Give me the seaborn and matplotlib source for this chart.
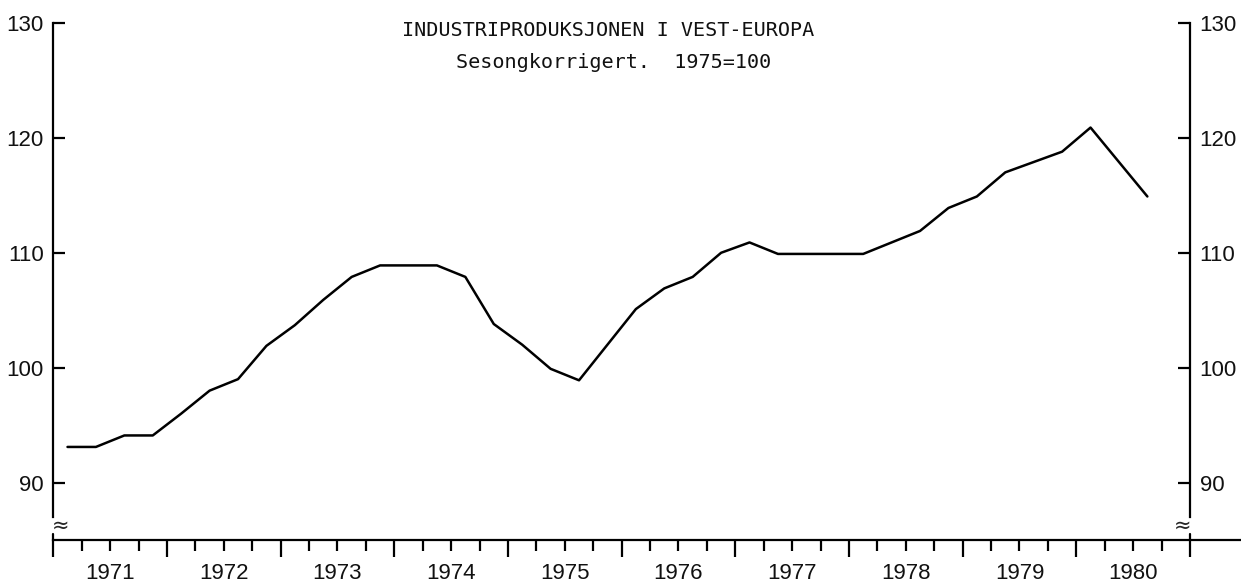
import matplotlib
matplotlib.use("Agg")
import matplotlib.pyplot as plt
import numpy as np
import pandas as pd
import seaborn as sns

# Industriproduksjonen i Vest-Europa, sesongkorrigert, kvartalstall (1975=100)
YEARS = list(range(1971, 1981))
QUARTERS = [(y, q) for y in YEARS for q in range(1, 5)][:39]  # siste: 1980 3. kvartal
INDEX = [93.1, 93.1, 94.1, 94.1, 96.0, 98.0, 99.0, 101.9,
         103.7, 105.9, 107.9, 108.9, 108.9, 108.9, 107.9, 103.8,
         102.0, 99.9, 98.9, 102.0, 105.1, 106.9, 107.9, 110.0,
         110.9, 109.9, 109.9, 109.9, 109.9, 110.9, 111.9, 113.9,
         114.9, 117.0, 117.9, 118.8, 120.9, 117.9, 114.9]
YEAR_LABELS = [str(y) for y in YEARS]
Y_TICKS = [90, 100, 110, 120, 130]
TITLE = "INDUSTRIPRODUKSJONEN I VEST-EUROPA"
SUBTITLE = "Sesongkorrigert.  1975=100"

W, H = 1241, 586

sns.set_style("ticks")
plt.rcParams["font.family"] = ["Liberation Sans", "DejaVu Sans"]

df = pd.DataFrame({
    "Tid": [y + (q - 0.5) / 4 for y, q in QUARTERS],
    "Indeks": INDEX,
})

fig = plt.figure(figsize=(W / 100, H / 100), dpi=100)
ax = fig.add_axes([53.3 / W, 46 / H, (1190 - 53.3) / W, (563 - 46) / H])

sns.lineplot(data=df, x="Tid", y="Indeks", ax=ax, color="black", linewidth=1.8)

ax.set_xlim(YEARS[0], YEARS[-1] + 1)
ax.set_ylim(85, 130)
ax.set_xlabel("")
ax.set_ylabel("")

# spines
lw = 1.6
ax.spines["top"].set_visible(False)
for side in ["left", "right", "bottom"]:
    ax.spines[side].set_visible(True)
    ax.spines[side].set_linewidth(lw)
    ax.spines[side].set_color("black")
ax.spines["left"].set_bounds(87.0, 130)
ax.spines["right"].set_bounds(87.0, 130)
ax.spines["bottom"].set_bounds(YEARS[0], YEARS[-1] + 1.5)

# x ticks: long at years, short at quarters
ax.set_xticks(YEARS + [YEARS[-1] + 1])
ax.set_xticks(np.arange(YEARS[0], YEARS[-1] + 1, 0.25), minor=True)
ax.tick_params(axis="x", which="major", direction="out", length=12, width=lw,
               labelbottom=False, color="black")
ax.tick_params(axis="x", which="minor", direction="out", length=7.7, width=lw,
               color="black")

# y ticks on both sides
ax.set_yticks(Y_TICKS)
ax.set_yticklabels([str(v) for v in Y_TICKS])
ax.tick_params(axis="y", which="major", direction="in", length=8.5, width=lw,
               left=True, right=True, labelleft=True, labelright=True,
               labelsize=16, pad=7, color="black", labelcolor="#111111")
ax.tick_params(axis="y", which="minor", left=False, right=False)

# year labels centred in each year
xt = ax.get_xaxis_transform()
for y, lab in zip(YEARS, YEAR_LABELS):
    ax.text(y + 0.5, -0.064, lab, transform=xt, ha="center", va="center",
            fontsize=16, color="#111111")

# axis break marks
yt = ax.get_yaxis_transform()
ax.plot([0, 0], [85, 85.5], transform=yt, color="black", lw=lw, clip_on=False)
ax.plot([1, 1], [85, 85.5], transform=yt, color="black", lw=lw, clip_on=False)
ax.text(-0.001, 86.2, "\u2248", transform=yt, ha="left", va="center",
        fontsize=15, family="DejaVu Sans")
ax.text(1.001, 86.2, "\u2248", transform=yt, ha="right", va="center",
        fontsize=15, family="DejaVu Sans")

# titles
fig.text(608 / W, 1 - 31 / H, TITLE, ha="center", va="center",
         family="DejaVu Sans Mono", fontsize=14.5, color="#111111")
fig.text(614 / W, 1 - 63 / H, SUBTITLE, ha="center", va="center",
         family="DejaVu Sans Mono", fontsize=14.5, color="#111111")

fig.savefig("out.png", dpi=100, facecolor="white")
